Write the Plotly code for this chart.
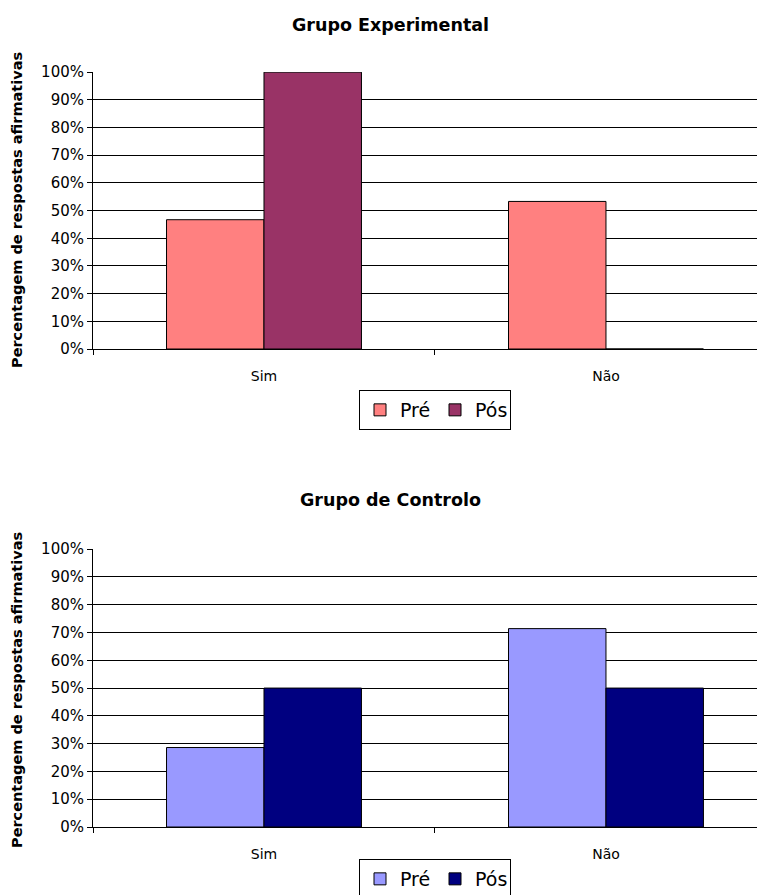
import plotly.graph_objects as go

categories = ["Sim", "Não"]
exp_pre = [0.467, 0.533]
exp_pos = [1.0, 0.0]
ctrl_pre = [0.286, 0.714]
ctrl_pos = [0.5, 0.5]
series_names = ["Pré", "Pós"]
titles = ["Grupo Experimental", "Grupo de Controlo"]
y_title = "Percentagem de respostas afirmativas"
y_ticks = [i / 10 for i in range(11)]
y_ticktext = [f"{i*10}%" for i in range(11)]

OFF = 8  # default body margin of the page
W, H = 765 - OFF, 895 - OFF
FONT = "DejaVu Sans, Liberation Sans, Arial, sans-serif"


def px(x):
    return (x - OFF) / W


def py(y):
    return 1 - (y - OFF) / H


fig = go.Figure()
line = dict(color="#000000", width=1)
fig.add_trace(go.Bar(x=categories, y=exp_pre, name=series_names[0], marker=dict(color="#FF8080", line=line), xaxis="x", yaxis="y", legend="legend"))
fig.add_trace(go.Bar(x=categories, y=exp_pos, name=series_names[1], marker=dict(color="#993366", line=line), xaxis="x", yaxis="y", legend="legend"))
fig.add_trace(go.Bar(x=categories, y=ctrl_pre, name=series_names[0], marker=dict(color="#9999FF", line=line), xaxis="x2", yaxis="y2", legend="legend2"))
fig.add_trace(go.Bar(x=categories, y=ctrl_pos, name=series_names[1], marker=dict(color="#000080", line=line), xaxis="x2", yaxis="y2", legend="legend2"))

xdom = [px(93), 1.0]
xr = [-0.5, 1.465]
common_x = dict(type="category", range=xr, domain=xdom, tickson="boundaries", ticks="outside", ticklen=5,
                tickcolor="#000", showline=True, linecolor="#000", linewidth=1, showgrid=False,
                ticklabelstandoff=14,
                tickfont=dict(size=14, color="#000", family=FONT))
common_y = dict(range=[0, 1.0005], tickvals=y_ticks, ticktext=y_ticktext, ticks="outside", ticklen=5,
                tickcolor="#000", showline=True, linecolor="#000", linewidth=1, showgrid=True,
                gridcolor="#000", gridwidth=1, zeroline=False,
                tickfont=dict(size=15, color="#000", family=FONT))

legend_common = dict(orientation="h", xanchor="center", yanchor="top",
                     bordercolor="#000", borderwidth=1, font=dict(size=19, family=FONT, color="#000"),
                     itemwidth=30, tracegroupgap=0, bgcolor="white",
                     entrywidth=30, entrywidthmode="pixels")

fig.update_layout(
    width=W, height=H, margin=dict(l=0, r=0, t=0, b=0, autoexpand=False),
    paper_bgcolor="white", plot_bgcolor="white",
    barmode="group", bargap=0.43, bargroupgap=0,
    font=dict(family=FONT, color="#000"),
    xaxis=dict(**common_x, anchor="y"),
    yaxis=dict(**common_y, domain=[py(349), py(72)], anchor="x"),
    xaxis2=dict(**common_x, anchor="y2"),
    yaxis2=dict(**common_y, domain=[py(827), py(549)], anchor="x2"),
    legend=dict(**legend_common, x=px(435), y=py(390)),
    legend2=dict(**legend_common, x=px(435), y=py(859)),
    showlegend=True,
)

annotations = [
    dict(text=f"<b>{titles[0]}</b>", x=px(390), y=py(25), xanchor="center", yanchor="middle",
         font=dict(size=17.5, family=FONT, color="#000")),
    dict(text=f"<b>{titles[1]}</b>", x=px(390), y=py(500), xanchor="center", yanchor="middle",
         font=dict(size=17.5, family=FONT, color="#000")),
    dict(text=f"<b>{y_title}</b>", x=px(17), y=py(210), xanchor="center", yanchor="middle",
         textangle=-90, font=dict(size=14.5, family=FONT, color="#000")),
    dict(text=f"<b>{y_title}</b>", x=px(17), y=py(690), xanchor="center", yanchor="middle",
         textangle=-90, font=dict(size=14.5, family=FONT, color="#000")),
]
for a in annotations:
    a.update(xref="paper", yref="paper", showarrow=False)
fig.update_layout(annotations=annotations)

fig.write_html("out.html")
